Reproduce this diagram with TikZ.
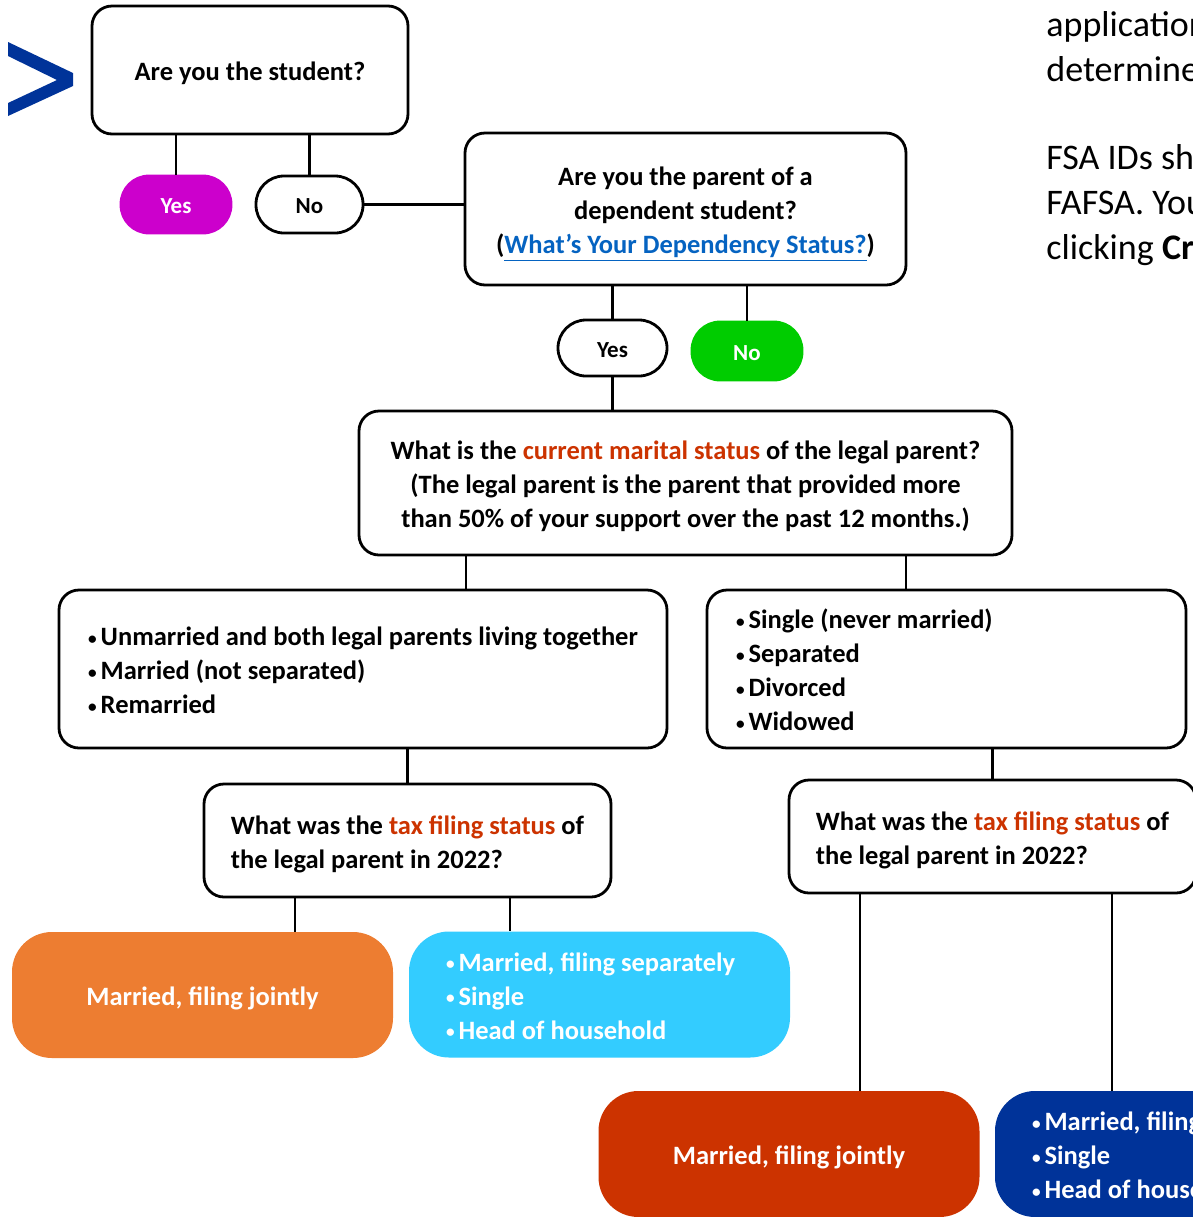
\documentclass[tikz,border=0pt]{standalone}
\usepackage{fontspec}
\setmainfont{Carlito}
\usetikzlibrary{calc}
\definecolor{fsamagenta}{HTML}{CC00CC}
\definecolor{fsagreen}{HTML}{00CC00}
\definecolor{fsaorange}{HTML}{ED7D31}
\definecolor{fsacyan}{HTML}{33CCFF}
\definecolor{fsared}{HTML}{CC3300}
\definecolor{fsablue}{HTML}{003399}
\definecolor{fsalink}{HTML}{0563C1}
\newcommand{\boxtext}[2]{\raisebox{-2pt}[\height][\depth]{\begin{tabular}{@{}#1@{}}#2\end{tabular}}}
\newcommand{\dotmark}{\raisebox{0.05em}{\scalebox{0.65}{\textbullet}}\hspace{2pt}}

\begin{document}
\begin{tikzpicture}[x=0.5pt, y=-0.5pt,
  qbox/.style={draw, line width=1.4pt, rounded corners=10pt, inner sep=0pt,
    font=\bfseries\fontsize{13.25}{17}\selectfont},
  ans/.style={draw, line width=1.4pt, rounded corners=14pt, inner sep=0pt,
    minimum width=55pt, minimum height=28.5pt, font=\bfseries\fontsize{11.5}{13}\selectfont},
  res/.style={rounded corners=20pt, text=white, inner sep=0pt,
    minimum width=190.5pt, minimum height=63pt, font=\bfseries\fontsize{13.25}{17}\selectfont},
  side/.style={anchor=base west, inner sep=0pt, font=\fontsize{18}{22.5}\selectfont},
  wire/.style={line width=1.4pt}]
\path[use as bounding box] (0,0) rectangle (1193,1217);
\fill[white] (0,0) rectangle (1193,1217);
\clip (0,0) rectangle (1193,1217);

\fill[fsablue] (8,42) -- (73,73) -- (73,86) -- (8,116) -- (8,103) -- (57,80) -- (8,56) -- cycle;

\node[qbox, minimum width=158pt, minimum height=64pt] (stud) at (250,70) {\boxtext{c}{Are you the student?}};
\node[ans, fill=fsamagenta, draw=fsamagenta, text=white] (yes1) at (176,204.5) {\boxtext{c}{Yes}};
\node[ans, minimum width=53.5pt] (no1) at (309.5,204.5) {\boxtext{c}{No}};
\node[qbox, minimum width=220.5pt, minimum height=76pt] (dep) at (685.5,209)
  {\boxtext{c}{Are you the parent of a\\dependent student?\\(\textcolor{fsalink}{\underline{What’s Your Dependency Status?}})}};
\node[ans, minimum width=54.5pt, minimum height=28pt] (yes2) at (612.5,348) {\boxtext{c}{Yes}};
\node[ans, fill=fsagreen, draw=fsagreen, text=white, minimum height=29pt] (no2) at (747,351) {\boxtext{c}{No}};
\node[qbox, minimum width=326.5pt, minimum height=72pt] (marital) at (685.5,483)
  {\boxtext{c}{What is the \textcolor{fsared}{current marital status} of the legal parent?\\(The legal parent is the parent that provided more\\than 50\% of your support over the past 12 months.)}};
\node[qbox, minimum width=304pt, minimum height=79pt] (both) at (363,669)
  {\boxtext{l}{\dotmark Unmarried and both legal parents living together\\\dotmark Married (not separated)\\\dotmark Remarried}};
\node[qbox, inner xsep=14.5pt, minimum height=79pt] (one) at (946.5,669)
  {\boxtext{p{210.5pt}}{\dotmark Single (never married)\\\dotmark Separated\\\dotmark Divorced\\\dotmark Widowed}};
\node[qbox, minimum width=203.5pt, minimum height=56.5pt] (tax1) at (407.5,840.5)
  {\boxtext{l}{What was the \textcolor{fsared}{tax filing status} of\\the legal parent in 2022?}};
\node[qbox, minimum width=203.5pt, minimum height=56.5pt] (tax2) at (992.5,836.5)
  {\boxtext{l}{What was the \textcolor{fsared}{tax filing status} of\\the legal parent in 2022?}};
\node[res, fill=fsaorange] (joint1) at (202.5,995) {\boxtext{c}{Married, filing jointly}};
\node[res, fill=fsacyan, inner xsep=18.5pt] (other1) at (599.5,994.5)
  {\boxtext{p{153.5pt}}{\dotmark Married, filing separately\\\dotmark Single\\\dotmark Head of household}};
\node[res, fill=fsared] (joint2) at (789,1154) {\boxtext{c}{Married, filing jointly}};
\node[res, fill=fsablue, inner xsep=18.5pt] (other2) at (1185.5,1154)
  {\boxtext{p{153.5pt}}{\dotmark Married, filing separately\\\dotmark Single\\\dotmark Head of household}};

\foreach \yy/\txt [count=\i] in {36/application, 81/determine, 169/FSA IDs should,
    214/FAFSA. You, 259/clicking \textbf{Create}}
  \node[side] (side\i) at (1046,\yy) {\txt};

\draw[wire] (yes1.north |- stud.south) -- (yes1.north);
\draw[wire] (no1.north |- stud.south) -- (no1.north);
\draw[wire] (no1.east) -- (no1.east -| dep.west);
\draw[wire] (yes2.north |- dep.south) -- (yes2.north);
\draw[wire] (no2.north |- dep.south) -- (no2.north);
\draw[wire] (yes2.south) -- (yes2.south |- marital.north);
\draw[wire] (marital.south) ++(-219.5,0) coordinate (m1) -- (m1 |- both.north);
\draw[wire] (marital.south) ++(220.5,0) coordinate (m2) -- (m2 |- one.north);
\draw[wire] (tax1.north |- both.south) -- (tax1.north);
\draw[wire] (tax2.north |- one.south) -- (tax2.north);
\draw[wire] (tax1.south) ++(-112.5,0) coordinate (t1) -- (t1 |- joint1.north);
\draw[wire] (tax1.south) ++(102.5,0) coordinate (t2) -- (t2 |- other1.north);
\draw[wire] (tax2.south) ++(-132.5,0) coordinate (t3) -- (t3 |- joint2.north);
\draw[wire] (tax2.south) ++(119.5,0) coordinate (t4) -- (t4 |- other2.north);
\end{tikzpicture}
\end{document}
